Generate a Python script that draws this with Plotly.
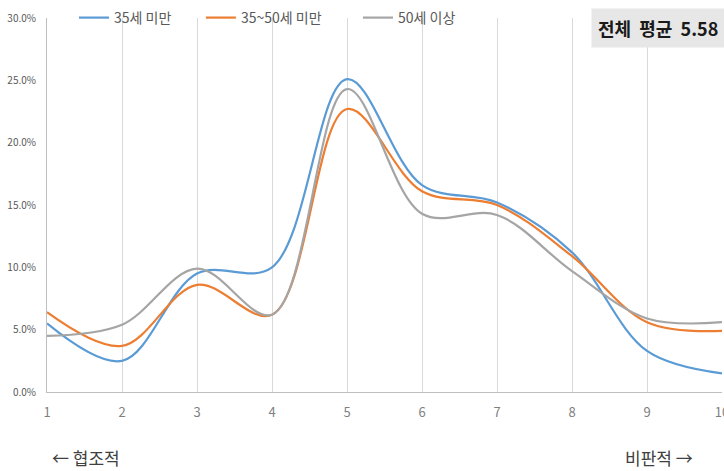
import plotly.graph_objects as go

# Score scale (1 = cooperative ... 10 = critical)
scores = [1, 2, 3, 4, 5, 6, 7, 8, 9, 10]

# Share of respondents per score, by age group
under35 = [0.055, 0.025, 0.095, 0.100, 0.251, 0.166, 0.152, 0.112, 0.033, 0.015]
age35_50 = [0.064, 0.037, 0.086, 0.062, 0.227, 0.161, 0.150, 0.109, 0.056, 0.049]
over50 = [0.045, 0.054, 0.099, 0.062, 0.243, 0.143, 0.142, 0.097, 0.059, 0.056]

series_names = ["35세 미만", "35~50세 미만", "50세 이상"]
series_values = [under35, age35_50, over50]
series_colors = ["#5B9BD5", "#ED7D31", "#A5A5A5"]

y_ticks = [0, 0.05, 0.10, 0.15, 0.20, 0.25, 0.30]
y_tick_text = ["0.0%", "5.0%", "10.0%", "15.0%", "20.0%", "25.0%", "30.0%"]

overall_mean = "전체&nbsp;&nbsp;평균&nbsp;&nbsp;5.58"

FONT = "Noto Sans CJK KR"

# one legend box per series so each entry can sit at its own spot
legend_ids = ["legend", "legend2", "legend3"]
legend_x = [0.04, 0.228, 0.4607]

fig = go.Figure()
for name, vals, col, lid in zip(series_names, series_values, series_colors, legend_ids):
    fig.add_trace(go.Scatter(
        x=scores, y=vals, name=name, mode="lines", legend=lid,
        line=dict(color=col, width=2.2, shape="spline", smoothing=1.0),
    ))

legend_style = dict(
    orientation="h", y=1.0, xanchor="left", yanchor="middle",
    font=dict(size=14, color="#595959", family=FONT),
    bgcolor="rgba(0,0,0,0)", itemwidth=30,
)

fig.update_layout(
    width=724, height=471,
    margin=dict(l=47, r=2, t=15, b=79),
    paper_bgcolor="white", plot_bgcolor="white",
    font=dict(family=FONT, color="#595959"),
    showlegend=True,
    xaxis=dict(
        range=[1, 10], tickvals=scores, ticktext=[str(s) for s in scores],
        showgrid=True, gridcolor="#d9d9d9", gridwidth=1,
        showline=True, linecolor="#bfbfbf", linewidth=1,
        ticks="", tickfont=dict(size=13, color="#7f7f7f", family=FONT),
        zeroline=False, ticklabelstandoff=8, ticklabeloverflow="allow",
        automargin=False,
    ),
    yaxis=dict(
        range=[0, 0.30], tickvals=y_ticks, ticktext=y_tick_text,
        showgrid=False, showline=True, linecolor="#bfbfbf", linewidth=1,
        ticks="", tickfont=dict(size=10, color="#595959", family=FONT),
        zeroline=False, ticklabelstandoff=8, automargin=False,
    ),
)
for lid, lx in zip(legend_ids, legend_x):
    fig.update_layout({lid: dict(legend_style, x=lx)})

# Overall mean badge in the top-right corner
fig.add_annotation(
    xref="paper", yref="paper", x=1.0, y=0.974, xanchor="right", yanchor="middle",
    xshift=3,
    text="<b>" + overall_mean + "</b>", showarrow=False,
    font=dict(size=18, color="#1a1a1a", family=FONT),
    bgcolor="#e7e7e7", borderpad=6,
)

# Direction labels under the axis
fig.add_annotation(
    xref="paper", yref="paper", x=0.0044, y=-0.175, xanchor="left", yanchor="middle",
    text="← 협조적", showarrow=False,
    font=dict(size=17, color="#404040", family=FONT),
)
fig.add_annotation(
    xref="paper", yref="paper", x=0.96, y=-0.175, xanchor="right", yanchor="middle",
    text="비판적 →", showarrow=False,
    font=dict(size=17, color="#404040", family=FONT),
)

fig.write_html("out.html")
